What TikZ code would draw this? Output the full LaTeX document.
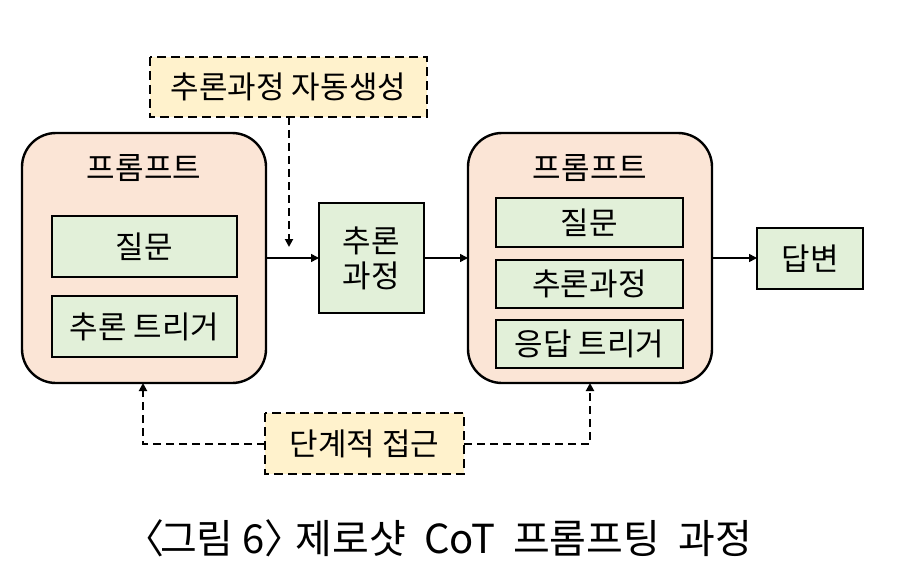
\documentclass[tikz,border=0pt]{standalone}
\usepackage{fontspec}
\setmainfont{Noto Sans CJK KR}
\usetikzlibrary{arrows.meta}
\definecolor{peach}{HTML}{FBE5D6}
\definecolor{lgreen}{HTML}{E2F0D9}
\definecolor{lyellow}{HTML}{FFF2CC}
\begin{document}
\begin{tikzpicture}[x=1pt,y=-1pt,
  outer/.style={draw=black,line width=2.4pt,fill=peach,rounded corners=34pt},
  inner/.style={draw=black,line width=2.4pt,fill=lgreen},
  note/.style={draw=black,line width=2.2pt,fill=lyellow,dash pattern=on 9pt off 5pt},
  lbl/.style={font=\fontsize{31}{35}\selectfont,inner sep=0pt},
  conn/.style={line width=1.6pt,-{Triangle[length=8pt,width=8pt]}},
  dconn/.style={line width=1.9pt,dash pattern=on 8pt off 5pt,-{Triangle[length=8pt,width=8pt]}}]
\useasboundingbox (0,0) rectangle (909,588);
% top note
\draw[note] (150,57) rectangle (427,117);
\node[lbl] (auto) at (288.5,87) {추론과정 자동생성};
\coordinate (autob) at (289,117);
\coordinate (autoend) at (289,247);
% left prompt
\draw[outer] (22,133) rectangle (266,383);
\node[lbl] (p1) at (144,168) {프롬프트};
\draw[inner] (52,216) rectangle (237,277);
\node[lbl] (q1) at (144.5,246.5) {질문};
\draw[inner] (52,296) rectangle (237,357);
\node[lbl] (t1) at (144.5,326.5) {추론 트리거};
\coordinate (L) at (266,258);
% reasoning box
\draw[inner] (319,203) rectangle (424,313);
\node[lbl,align=center] (r) at (371.5,258) {추론\\과정};
\coordinate (rL) at (319,258);
\coordinate (rR) at (424,258);
% right prompt
\draw[outer] (468,133) rectangle (712,383);
\node[lbl] (p2) at (590,168) {프롬프트};
\draw[inner] (496,198) rectangle (683,247);
\node[lbl] (q2) at (589.5,222.5) {질문};
\draw[inner] (496,260) rectangle (683,308);
\node[lbl] (r2) at (589.5,284) {추론과정};
\draw[inner] (496,320) rectangle (683,368);
\node[lbl] (t2) at (589.5,344) {응답 트리거};
\coordinate (R) at (468,258);
\coordinate (RR) at (712,258);
% answer
\draw[inner] (757,228) rectangle (863,289);
\node[lbl] (ans) at (810,258.5) {답변};
\coordinate (ansL) at (757,258);
% bottom note
\draw[note] (265,413) rectangle (464,474);
\node[lbl] (step) at (364.5,443.5) {단계적 접근};
\coordinate (stepL) at (265,444);
\coordinate (stepR) at (464,444);
\coordinate (Lb) at (143,383);
\coordinate (Rb) at (590,383);
% connectors
\draw[conn] (L) -- (rL);
\draw[conn] (rR) -- (R);
\draw[conn] (RR) -- (ansL);
\draw[dconn] (autob) -- (autoend);
\draw[dconn] (stepL) -| (Lb);
\draw[dconn] (stepR) -| (Rb);
% caption
\node[font=\fontsize{40}{46}\selectfont,inner sep=0pt] (cap) at (444,538) {\kern-0.3em〈\kern-0.1em 그림 6〉\kern-0.45em\ 제로샷\ \ CoT\ \ 프롬프팅\ \ 과정};
\end{tikzpicture}
\end{document}
